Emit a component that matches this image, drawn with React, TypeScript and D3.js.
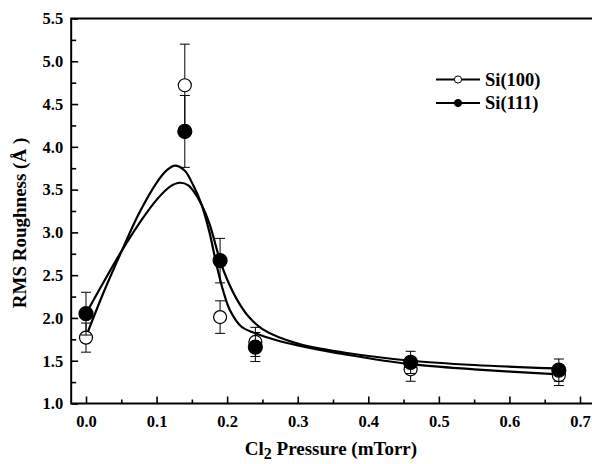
import { useEffect, useRef } from "react";
import * as d3 from "d3";

// measured points (Cl2 pressure in mTorr, RMS roughness in Å)
const pressures = [0, 0.14, 0.19, 0.24, 0.46, 0.67];
const si100Rms = [1.77, 4.72, 2.01, 1.72, 1.4, 1.33];
const si100Err = [0.17, 0.48, 0.19, 0.17, 0.14, 0.12];
const si111Rms = [2.05, 4.18, 2.67, 1.66, 1.48, 1.39];
const si111Err = [0.25, 0.42, 0.26, 0.17, 0.13, 0.13];

// fitted curves
const fit100X = [0, 0.025, 0.051, 0.075, 0.1, 0.115, 0.126, 0.14, 0.152, 0.164, 0.175, 0.185, 0.195, 0.204, 0.22, 0.24, 0.27, 0.3, 0.37, 0.46, 0.55, 0.67];
const fit100Y = [1.78, 2.3, 2.79, 3.22, 3.58, 3.73, 3.78, 3.72, 3.55, 3.32, 3.0, 2.62, 2.3, 2.09, 1.9, 1.82, 1.74, 1.68, 1.57, 1.46, 1.4, 1.34];
const fit111X = [0, 0.025, 0.051, 0.075, 0.1, 0.12, 0.133, 0.145, 0.155, 0.164, 0.175, 0.19, 0.2, 0.215, 0.23, 0.25, 0.3, 0.37, 0.46, 0.55, 0.67];
const fit111Y = [2.05, 2.42, 2.79, 3.1, 3.38, 3.54, 3.58, 3.55, 3.45, 3.32, 3.1, 2.67, 2.45, 2.2, 2.02, 1.87, 1.7, 1.59, 1.5, 1.45, 1.41];

const xTicks = [0, 0.1, 0.2, 0.3, 0.4, 0.5, 0.6, 0.7];
const xMinor = [0.05, 0.15, 0.25, 0.35, 0.45, 0.55, 0.65, 0.75];
const yTicks = [1.0, 1.5, 2.0, 2.5, 3.0, 3.5, 4.0, 4.5, 5.0, 5.5];
const yMinor = [1.25, 1.75, 2.25, 2.75, 3.25, 3.75, 4.25, 4.75, 5.25];

const seriesNames = ["Si(100)", "Si(111)"];

export default function App() {
  const svgRef = useRef<SVGSVGElement>(null);

  useEffect(() => {
    const width = 592;
    const height = 464;
    const font = "'Liberation Serif', 'Times New Roman', serif";

    const svg = d3.select(svgRef.current);
    svg.selectAll("*").remove();
    svg.attr("width", width).attr("height", height).attr("viewBox", `0 0 ${width} ${height}`);

    const x = d3.scaleLinear().domain([0, 0.7]).range([86, 580]);
    const y = d3.scaleLinear().domain([1, 5.5]).range([403.5, 18.5]);
    const left = x(-0.021);
    const right = x(0.78);

    // frame (right side runs off the picture)
    svg
      .append("path")
      .attr("d", `M${right},${y(5.5)}H${left}V${y(1)}H${right}`)
      .attr("fill", "none")
      .attr("stroke", "#000")
      .attr("stroke-width", 2);

    const styleAxis = (g: any) => {
      g.select(".domain").remove();
      g.selectAll("line").attr("stroke", "#000").attr("stroke-width", 1.6);
      g.selectAll("text")
        .attr("fill", "#000")
        .style("font-family", font)
        .style("font-weight", "bold")
        .style("font-size", "16.5px");
    };

    svg
      .append("g")
      .attr("transform", `translate(${left},0)`)
      .call(d3.axisLeft(y).tickValues(yTicks).tickSize(-7).tickPadding(8).tickFormat(d3.format(".1f")))
      .call(styleAxis);
    svg
      .append("g")
      .attr("transform", `translate(${left},0)`)
      .call(d3.axisLeft(y).tickValues(yMinor).tickSize(-5).tickFormat(() => ""))
      .call(styleAxis);

    svg
      .append("g")
      .attr("transform", `translate(0,${y(1)})`)
      .call(d3.axisBottom(x).tickValues(xTicks).tickSize(-7).tickPadding(12).tickFormat(d3.format(".1f")))
      .call(styleAxis);
    svg
      .append("g")
      .attr("transform", `translate(0,${y(1)})`)
      .call(d3.axisBottom(x).tickValues(xMinor).tickSize(-4).tickFormat(() => ""))
      .call(styleAxis);

    // fitted curves
    const curve = d3
      .line<[number, number]>()
      .x((d) => x(d[0]))
      .y((d) => y(d[1]))
      .curve(d3.curveCatmullRom.alpha(0.5));

    const fit100 = fit100X.map((v, i) => [v, fit100Y[i]] as [number, number]);
    const fit111 = fit111X.map((v, i) => [v, fit111Y[i]] as [number, number]);

    [fit100, fit111].forEach((pts) => {
      svg
        .append("path")
        .datum(pts)
        .attr("d", curve)
        .attr("fill", "none")
        .attr("stroke", "#000")
        .attr("stroke-width", 2.2);
    });

    const drawSeries = (vals: number[], errs: number[], filled: boolean) => {
      const g = svg.append("g");
      pressures.forEach((p, i) => {
        const cx = x(p);
        const top = y(vals[i] + errs[i]);
        const bot = y(vals[i] - errs[i]);
        g.append("line")
          .attr("x1", cx).attr("x2", cx).attr("y1", top).attr("y2", bot)
          .attr("stroke", "#000").attr("stroke-width", 1);
        [top, bot].forEach((yy) => {
          g.append("line")
            .attr("x1", cx - 5).attr("x2", cx + 5).attr("y1", yy).attr("y2", yy)
            .attr("stroke", "#000").attr("stroke-width", 1);
        });
      });
      g.selectAll("circle.pt")
        .data(pressures)
        .join("circle")
        .attr("cx", (d) => x(d))
        .attr("cy", (_d, i) => y(vals[i]))
        .attr("r", filled ? 7 : 6.5)
        .attr("fill", filled ? "#000" : "#fff")
        .attr("stroke", "#000")
        .attr("stroke-width", 1.2);
    };

    drawSeries(si100Rms, si100Err, false);
    drawSeries(si111Rms, si111Err, true);

    // legend
    const legend = svg.append("g");
    seriesNames.forEach((name, i) => {
      const ly = 79.5 + i * 23.5;
      legend.append("line")
        .attr("x1", 436).attr("x2", 480).attr("y1", ly).attr("y2", ly)
        .attr("stroke", "#000").attr("stroke-width", 1.8);
      legend.append("circle")
        .attr("cx", 458).attr("cy", ly).attr("r", 3.6)
        .attr("fill", i === 0 ? "#fff" : "#000")
        .attr("stroke", "#000").attr("stroke-width", 1);
      legend.append("text")
        .attr("x", 485).attr("y", ly + 6)
        .style("font-family", font).style("font-weight", "bold").style("font-size", "18.5px")
        .text(name);
    });

    // axis titles
    const xTitle = svg
      .append("text")
      .attr("x", 331)
      .attr("y", 455)
      .attr("text-anchor", "middle")
      .style("font-family", font)
      .style("font-weight", "bold")
      .style("font-size", "19px");
    xTitle.append("tspan").text("Cl");
    xTitle.append("tspan").attr("dy", 3.5).style("font-size", "16px").text("2");
    xTitle.append("tspan").attr("dy", -3.5).text(" Pressure (mTorr)");

    svg
      .append("text")
      .attr("transform", `translate(26,223) rotate(-90)`)
      .attr("text-anchor", "middle")
      .style("font-family", font)
      .style("font-weight", "bold")
      .style("font-size", "19px")
      .text("RMS Roughness (Å )");
  }, []);

  return (
    <svg
      ref={svgRef}
      style={{ position: "absolute", left: 0, top: 0, background: "#fff" }}
      role="img"
    />
  );
}
